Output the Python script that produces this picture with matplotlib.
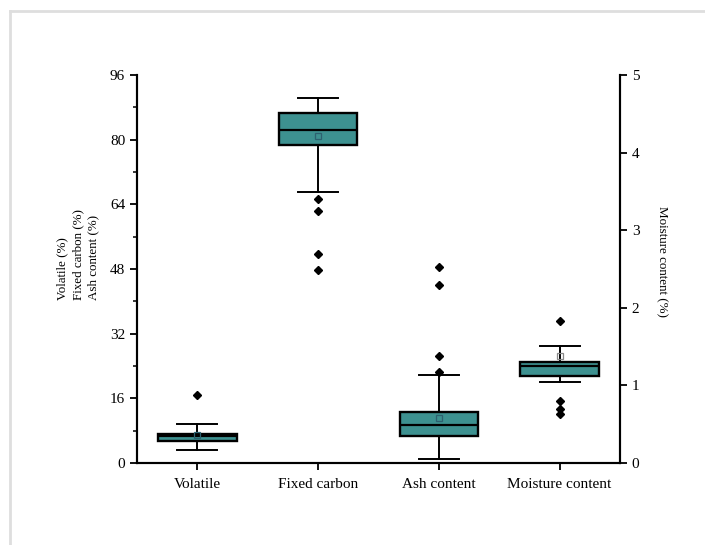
import numpy as np
import matplotlib.pyplot as plt
from matplotlib.lines import Line2D

plt.rcParams['font.family'] = ['Liberation Serif', 'DejaVu Serif']
plt.rcParams['font.size'] = 11

categories = ['Volatile', 'Fixed carbon', 'Ash content', 'Moisture content']

# box summaries: whisker low, q1, median, q3, whisker high, mean, outliers
whislo = [3.2, 67.0, 1.1, 1.04]
q1 = [5.4, 78.6, 6.7, 1.12]
med = [6.6, 82.3, 9.5, 1.25]
q3 = [7.2, 86.5, 12.7, 1.30]
whishi = [9.7, 90.3, 21.8, 1.51]
means = [6.8, 80.8, 11.2, 1.38]
outliers = [
    [16.9],
    [65.3, 62.3, 51.8, 47.7],
    [48.5, 44.1, 26.5, 22.6],
    [1.83, 0.80, 0.69, 0.63],
]

box_color = '#3d9190'

fig = plt.figure(figsize=(7.05, 5.45), dpi=100)
# light frame lines along the left and top edges
fig.add_artist(Line2D([10 / 705, 10 / 705], [0, 1 - 11 / 545], transform=fig.transFigure,
                      color='#dedede', lw=2))
fig.add_artist(Line2D([10 / 705, 1], [1 - 11 / 545, 1 - 11 / 545], transform=fig.transFigure,
                      color='#dedede', lw=2))

ax = fig.add_axes([0.1943, 0.1505, 0.6851, 0.7119])
ax2 = ax.twinx()


def stats(i):
    return dict(whislo=whislo[i], q1=q1[i], med=med[i], q3=q3[i], whishi=whishi[i],
                mean=means[i], fliers=outliers[i], label=categories[i])


style = dict(
    widths=0.65, patch_artist=True, showmeans=True, showfliers=True,
    boxprops=dict(facecolor=box_color, edgecolor='black', linewidth=1.7),
    medianprops=dict(color='black', linewidth=1.6),
    whiskerprops=dict(color='black', linewidth=1.4),
    capprops=dict(color='black', linewidth=1.4),
    capwidths=0.33,
    flierprops=dict(marker='D', markerfacecolor='black', markeredgecolor='black', markersize=4.5),
    meanprops=dict(marker='s', markerfacecolor='none', markeredgecolor='#2d6170',
                   markersize=5, markeredgewidth=0.9),
)

ax.bxp([stats(i) for i in range(3)], positions=[1, 2, 3], **style)
style['meanprops'] = dict(marker='s', markerfacecolor='none', markeredgecolor='#888888',
                          markersize=5, markeredgewidth=0.9)
ax2.bxp([stats(3)], positions=[4], **style)

ax.set_xlim(0.5, 4.5)
ax.set_ylim(0, 96)
ax2.set_ylim(0, 5)
ax.set_xticks([1, 2, 3, 4])
ax.set_xticklabels(categories)
ax.set_yticks(np.arange(0, 97, 16))
ax.set_yticks(np.arange(8, 96, 16), minor=True)
ax2.set_yticks(np.arange(0, 6, 1))

for a in (ax, ax2):
    a.spines['top'].set_visible(False)
    for s in a.spines.values():
        s.set_linewidth(1.5)
    a.tick_params(which='major', direction='out', length=5, width=1.3)
    a.tick_params(which='minor', direction='out', length=3, width=1.1)
ax.tick_params(axis='x', pad=6)

fig.text(78 / 705, 1 - 254 / 545, 'Volatile (%)\nFixed carbon (%)\nAsh content (%)',
         rotation=90, ha='center', va='center', multialignment='left',
         fontsize=9.4, linespacing=1.38)
fig.text(662 / 705, 1 - 262 / 545, 'Moisture content (%)', rotation=-90,
         ha='center', va='center', fontsize=9.4)

fig.savefig('out.png', dpi=100)
